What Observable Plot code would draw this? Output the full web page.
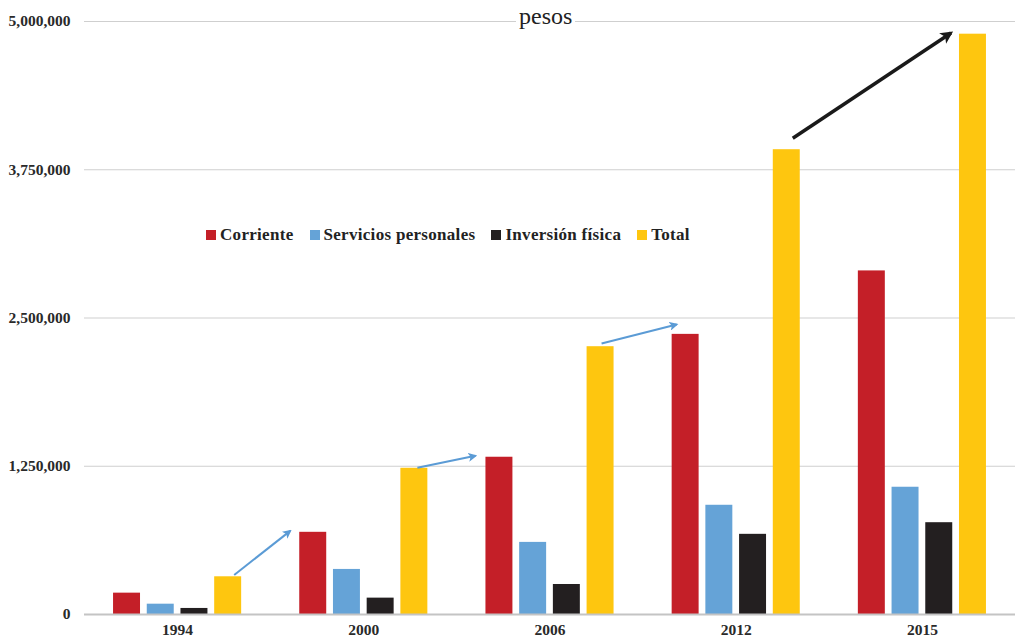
<!DOCTYPE html>
<html><head><meta charset="utf-8">
<script src="https://cdn.jsdelivr.net/npm/d3@7"></script>
<script src="https://cdn.jsdelivr.net/npm/@observablehq/plot@0.6"></script>
<style>
html,body{margin:0;padding:0;background:#fff;}
#wrap{position:relative;width:1015px;height:639px;overflow:hidden;}
#title{position:absolute;left:516px;top:4px;padding:0 3px;background:#fff;font:24px "Liberation Serif",serif;color:#222;line-height:24px;}
#legend{position:absolute;left:206px;top:225px;font:bold 17px "Liberation Serif",serif;letter-spacing:0.3px;color:#222;display:flex;align-items:center;white-space:nowrap;}
#legend .it{display:flex;align-items:center;margin-right:16px;}
#legend .sw{width:10px;height:10px;margin-right:4px;display:inline-block;}
</style></head>
<body>
<div id="wrap">
  <div id="chart"></div>
  <div id="title">pesos</div>
  <div id="legend"></div>
</div>
<script>
const years = ["1994","2000","2006","2012","2015"];
const series = ["Corriente","Servicios personales","Inversión física","Total"];
const colors = ["#c41f28","#65a3d7","#231f20","#fec60f"];
const corriente = [180000, 693000, 1326000, 2362000, 2897000];
const servicios = [87000, 380000, 608000, 921000, 1073000];
const inversion = [51000, 138000, 253000, 676000, 774000];
const total = [318000, 1233000, 2258000, 3919000, 4893000];
const yTicks = [0, 1250000, 2500000, 3750000, 5000000];

// annotation arrows (from bar top to bar top)
const arrowFromYear = ["1994","2000","2006","2012"];
const arrowFromSeries = ["Total","Total","Total","Total"];
const arrowFromValue = [329000, 1233000, 2280000, 4012000];
const arrowToYear = ["2000","2006","2012","2015"];
const arrowToSeries = ["Corriente","Corriente","Corriente","Total"];
const arrowToValue = [701000, 1334000, 2441000, 4899000];
const arrowColor = ["#5b9bd5","#5b9bd5","#5b9bd5","#1a1a1a"];

// layout
const W = 1015, H = 639, mL = 84, mR = 0, mT = 21, mB = 25;
const padIn = 0.312, padOut = 0.156;
const step = (W - mL - mR) / (years.length - padIn + 2 * padOut);
const bw = step * (1 - padIn);
const sub = d3.scaleBand().domain(series).range([0, bw]).paddingInner(0.2).paddingOuter(0);
const arrowDx1 = [20, 17, 15, 20];
const arrowDx2 = [-9, -10, 5, -8];

const values = [corriente, servicios, inversion, total];
const barMarks = series.map((s, i) => Plot.barY(
  years.map((y, j) => ({year: y, value: values[i][j], series: s})),
  {x: "year", y: "value", fill: colors[i],
   insetLeft: sub(s), insetRight: bw - sub(s) - sub.bandwidth()}
));

const chart = Plot.plot({
  width: W, height: H,
  marginLeft: mL, marginRight: mR, marginTop: mT, marginBottom: mB,
  style: {fontFamily: '"Liberation Serif", serif', fontSize: "15.5px", fontWeight: "bold", color: "#2a2a2a", background: "#fff", overflow: "visible"},
  x: {type: "band", domain: years, paddingInner: padIn, paddingOuter: padOut, round: false, label: null, tickSize: 0, tickPadding: 9},
  y: {domain: [0, 5000000], ticks: yTicks, tickFormat: d3.format(","), tickSize: 0, tickPadding: 14, label: null},
  marks: [
    Plot.ruleY(yTicks.slice(1), {stroke: "#cfcfcf", strokeWidth: 1}),
    ...barMarks,
    Plot.ruleY([0], {stroke: "#c4c4c4", strokeWidth: 2})
  ]
});
document.getElementById("chart").appendChild(chart);

// arrows via Plot's scales
const xs = chart.scale("x"), ys = chart.scale("y");
const svg = d3.select(chart.tagName.toLowerCase() === "svg" ? chart : chart.querySelector("svg"));
const defs = svg.append("defs");
["blue","black"].forEach((k) => {
  defs.append("marker").attr("id", "ah-" + k)
    .attr("viewBox", "0 0 10 10").attr("refX", 8).attr("refY", 5)
    .attr("markerWidth", k === "blue" ? 4.5 : 3.6).attr("markerHeight", k === "blue" ? 4.5 : 3.6)
    .attr("markerUnits", "strokeWidth").attr("orient", "auto")
    .append("path").attr("d", "M0,0L10,5L0,10L2.5,5Z")
    .attr("fill", k === "blue" ? "#5b9bd5" : "#1a1a1a");
});
const g = svg.append("g");
arrowFromYear.forEach((fy, i) => {
  const x1 = xs.apply(fy) + sub(arrowFromSeries[i]) + arrowDx1[i];
  const x2 = xs.apply(arrowToYear[i]) + sub(arrowToSeries[i]) + arrowDx2[i];
  const y1 = ys.apply(arrowFromValue[i]);
  const y2 = ys.apply(arrowToValue[i]);
  const black = arrowColor[i] === "#1a1a1a";
  g.append("line").attr("x1", x1).attr("y1", y1).attr("x2", x2).attr("y2", y2)
    .attr("stroke", arrowColor[i]).attr("stroke-width", black ? 3.5 : 2)
    .attr("marker-end", black ? "url(#ah-black)" : "url(#ah-blue)");
});

// legend
const leg = d3.select("#legend");
series.forEach((s, i) => {
  const it = leg.append("div").attr("class", "it");
  it.append("span").attr("class", "sw").style("background", colors[i]);
  it.append("span").text(s);
});
</script>
</body></html>
